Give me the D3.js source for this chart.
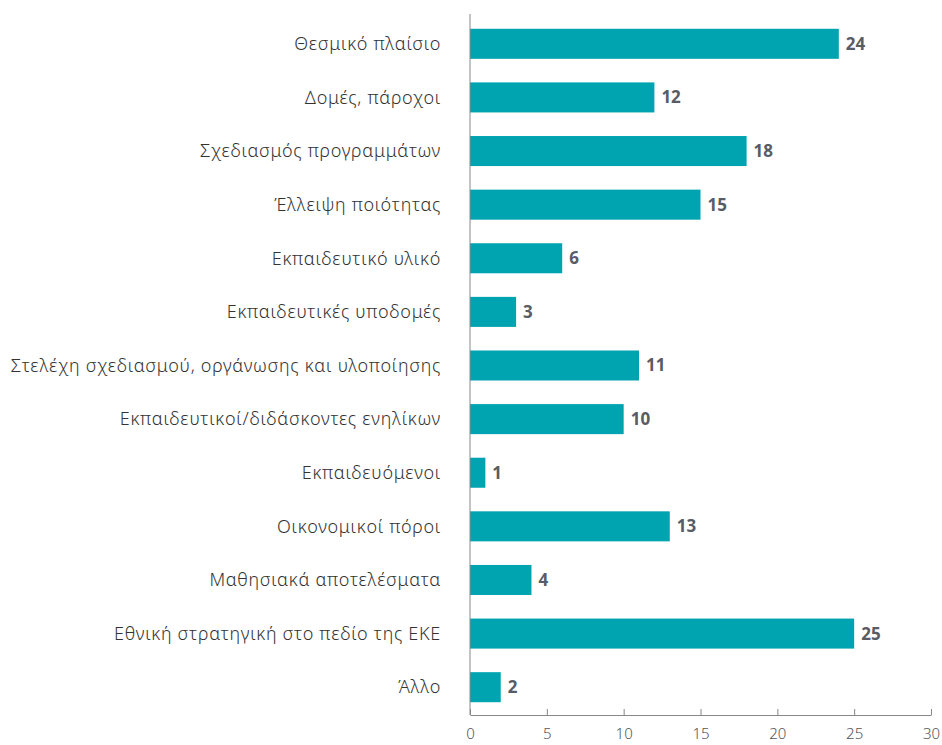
<!DOCTYPE html>
<html><head><meta charset="utf-8">
<script src="https://cdn.jsdelivr.net/npm/d3@7"></script>
<style>body{margin:0;background:#fff;} text{font-family:"Noto Sans",sans-serif;}</style>
</head><body>
<svg id="c" width="942" height="745"></svg>
<script>
const categories = ["Θεσμικό πλαίσιο","Δομές, πάροχοι","Σχεδιασμός προγραμμάτων","Έλλειψη ποιότητας","Εκπαιδευτικό υλικό","Εκπαιδευτικές υποδομές","Στελέχη σχεδιασμού, οργάνωσης και υλοποίησης","Εκπαιδευτικοί/διδάσκοντες ενηλίκων","Εκπαιδευόμενοι","Οικονομικοί πόροι","Μαθησιακά αποτελέσματα","Εθνική στρατηγική στο πεδίο της ΕΚΕ","Άλλο"];
const values = [24,12,18,15,6,3,11,10,1,13,4,25,2];
const ticks = [0,5,10,15,20,25,30];

const svg = d3.select("#c");
const x = d3.scaleLinear().domain([0,30]).range([470,931]);
const y = d3.scaleBand().domain(categories).range([17,714]).paddingInner(0.44).paddingOuter(0.22);
const data = categories.map((c,i)=>({c, v: values[i]}));

svg.selectAll("rect.bar").data(data).join("rect")
  .attr("x", x(0)).attr("y", d=>y(d.c))
  .attr("width", d=>x(d.v)-x(0)).attr("height", y.bandwidth())
  .attr("fill","#00A3B0");

svg.selectAll("text.val").data(data).join("text")
  .attr("x", d=>x(d.v)+7).attr("y", d=>y(d.c)+y.bandwidth()/2)
  .attr("dy","0.35em").attr("font-size",17).attr("font-weight","bold")
  .attr("fill","#585c64").text(d=>d.v);

svg.selectAll("text.cat").data(data).join("text")
  .attr("x", 441).attr("y", d=>y(d.c)+y.bandwidth()/2)
  .attr("dy","0.35em").attr("text-anchor","end").attr("font-size",18)
  .attr("font-weight",300).attr("letter-spacing","0.72px")
  .attr("fill","#333").text(d=>d.c);

// vertical axis line
svg.append("line").attr("x1",x(0)).attr("x2",x(0)).attr("y1",14).attr("y2",715)
  .attr("stroke","#888").attr("stroke-width",1);

const xAxis = d3.axisBottom(x).tickValues(ticks).tickSize(0).tickPadding(13);
const g = svg.append("g").attr("transform","translate(0,715)").call(xAxis);
g.select(".domain").attr("stroke","#888");
g.selectAll(".tick text").attr("font-size",15).attr("font-weight",300).attr("fill","#555").attr("font-family","Noto Sans, sans-serif");
g.selectAll(".tick").append("line").attr("y1",0).attr("y2",-6).attr("stroke","#888");
</script>
</body></html>
